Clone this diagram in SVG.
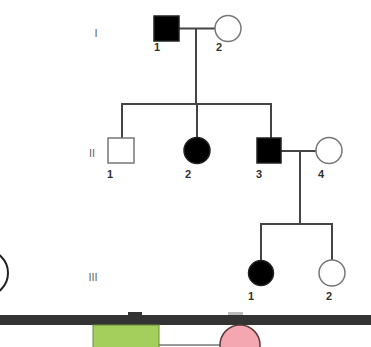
<svg xmlns="http://www.w3.org/2000/svg" width="371" height="347" viewBox="0 0 371 347">
<style>
.ln{stroke:#444;stroke-width:2;fill:none}
.aff{fill:#000;stroke:#222;stroke-width:1.5}
.un{fill:#fff;stroke:#777;stroke-width:1.5}
.lb{font-family:"Liberation Sans",Arial,sans-serif;font-size:11px;font-weight:bold;fill:#333;text-anchor:middle}
.gen{font-family:"Liberation Sans",Arial,sans-serif;font-size:11px;fill:#666;text-anchor:middle}
</style>
<rect width="371" height="347" fill="#fff"/>
<g id="connectors">
<line class="ln" x1="179" y1="28.5" x2="215" y2="28.5"/>
<line class="ln" x1="196" y1="28.5" x2="196" y2="104"/>
<polyline class="ln" points="122,138 122,104 271,104 271,138"/>
<line class="ln" x1="197" y1="104" x2="197" y2="138"/>
<line class="ln" x1="281" y1="151" x2="316" y2="151"/>
<line class="ln" x1="300" y1="151" x2="300" y2="224"/>
<polyline class="ln" points="261,260 261,224 332,224 332,260"/>
</g>
<g id="gen-labels">
<text class="gen" x="96" y="37">I</text>
<text class="gen" x="92" y="157">II</text>
<text class="gen" x="93" y="281">III</text>
</g>
<g id="I-1"><rect class="aff" x="154" y="16" width="25" height="25"/><text class="lb" x="157" y="51">1</text></g>
<g id="I-2"><circle class="un" cx="228" cy="28.5" r="13"/><text class="lb" x="219" y="51">2</text></g>
<g id="II-1"><rect class="un" x="108" y="138" width="26" height="25"/><text class="lb" x="110" y="178">1</text></g>
<g id="II-2"><circle class="aff" cx="197" cy="150.5" r="13"/><text class="lb" x="188" y="178">2</text></g>
<g id="II-3"><rect class="aff" x="257" y="138" width="24" height="25"/><text class="lb" x="259" y="178">3</text></g>
<g id="II-4"><circle class="un" cx="329" cy="150.5" r="13"/><text class="lb" x="321" y="178">4</text></g>
<g id="III-1"><circle class="aff" cx="261" cy="273" r="12.5"/><text class="lb" x="251" y="300">1</text></g>
<g id="III-2"><circle class="un" cx="332" cy="273" r="13"/><text class="lb" x="329" y="300">2</text></g>
<circle cx="-15" cy="273" r="23" fill="none" stroke="#222" stroke-width="2"/>
<rect x="0" y="315" width="371" height="10" fill="#333"/>
<rect x="128" y="312" width="14" height="3" fill="#333"/>
<rect x="228" y="312" width="15" height="3" fill="#bbb"/>
<line x1="159" y1="345" x2="220" y2="345" stroke="#999" stroke-width="2"/>
<rect x="93" y="325" width="66" height="30" fill="#a4cf5c" stroke="#6b8a3a" stroke-width="1"/>
<circle cx="240" cy="345" r="20" fill="#f4a7b0" stroke="#5a3a3a" stroke-width="1.5"/>
</svg>
